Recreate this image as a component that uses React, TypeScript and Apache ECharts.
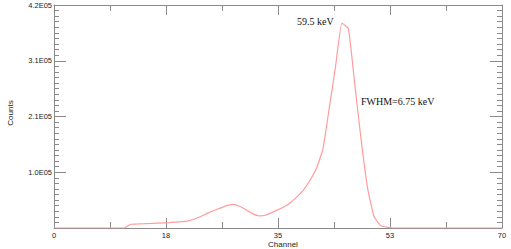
import React, { useEffect, useRef } from "react";
import * as echarts from "echarts";

const channels: number[] = [
  0, 1, 2, 3, 4, 5, 6, 7, 8, 9, 10, 11, 12, 13, 14, 15, 16, 17, 18, 19, 20,
  21, 22, 23, 24, 25, 26, 27, 28, 29, 30, 31, 32, 33, 34, 35, 36, 37, 38, 39, 40,
  41, 42, 43, 44, 45, 46, 47, 48, 49, 50, 51, 52, 53, 54, 55, 56, 57, 58, 59, 60,
  61, 62, 63, 64, 65, 66, 67, 68, 69, 70,
];
const counts: number[] = [
  0, 0, 0, 0, 0, 0, 0, 0, 0, 0, 0, 0, 7000, 7500, 8000, 8500, 9000, 9500, 10000, 11000, 12000,
  13500, 17000, 22000, 28000, 33000, 37500, 42000, 44500, 41000, 34500, 27000, 23000, 24000, 29000, 34500, 40000, 48000, 59000, 72000, 90000,
  112000, 148000, 225000, 305000, 386000, 375000, 270000, 165000, 75000, 22000, 5000, 1500, 0, 0, 0, 0, 0, 0, 0, 0,
  0, 0, 0, 0, 0, 0, 0, 0, 0, 0,
];
const xTickLabels: string[] = ["0", "18", "35", "53", "70"];
const yTickLabels: string[] = ["", "1.0E05", "2.1E05", "3.1E05", "4.2E05"];
const peakLabel = "59.5 keV";
const fwhmLabel = "FWHM=6.75 keV";

const AXIS = "#8a8a8a";
const LINE = "#ff9c9c";

export default function App() {
  const ref = useRef<HTMLDivElement>(null);
  useEffect(() => {
    if (!ref.current) return;
    const chart = echarts.init(ref.current, undefined, { renderer: "svg" });
    const xAx = (position: "top" | "bottom", interval: number, len: number, labels: boolean, line: boolean) => ({
      type: "value" as const,
      position,
      min: 0,
      max: 70,
      interval,
      splitLine: { show: false },
      axisLine: { show: line, onZero: false, lineStyle: { color: AXIS, width: 1 } },
      axisTick: { show: true, inside: true, length: len, lineStyle: { color: AXIS } },
      axisLabel: labels
        ? {
            margin: 3,
            fontSize: 7.5,
            color: "#222",
            fontFamily: "Liberation Sans",
            formatter: (v: number) => xTickLabels[Math.round(v / 17.5)] ?? "",
          }
        : { show: false },
    });
    const yAx = (position: "left" | "right", interval: number, len: number, labels: boolean, line: boolean) => ({
      type: "value" as const,
      position,
      min: 0,
      max: 420000,
      interval,
      splitLine: { show: false },
      axisLine: { show: line, onZero: false, lineStyle: { color: AXIS, width: 1 } },
      axisTick: { show: true, inside: true, length: len, lineStyle: { color: AXIS } },
      axisLabel: labels
        ? {
            margin: 2,
            fontSize: 7.5,
            color: "#222",
            fontFamily: "Liberation Sans",
            formatter: (v: number) => yTickLabels[Math.round(v / 105000)] ?? "",
          }
        : { show: false },
    });
    chart.setOption({
      animation: false,
      backgroundColor: "#ffffff",
      grid: { left: 54, right: 9, top: 5, bottom: 21, containLabel: false },
      xAxis: [
        xAx("bottom", 17.5, 10, true, true),
        xAx("top", 17.5, 10, false, true),
        xAx("bottom", 8.75, 6, false, false),
        xAx("top", 8.75, 6, false, false),
      ],
      yAxis: [
        yAx("left", 105000, 12, true, true),
        yAx("right", 105000, 12, false, true),
        yAx("left", 10500, 5, false, false),
        yAx("right", 10500, 5, false, false),
      ],
      graphic: [
        {
          type: "text",
          x: 283,
          y: 244,
          style: {
            text: "Channel",
            fontSize: 8,
            fontFamily: "Liberation Sans",
            fill: "#222",
            textAlign: "center",
            textVerticalAlign: "middle",
          },
        },
        {
          type: "text",
          x: 10.5,
          y: 113,
          rotation: Math.PI / 2,
          style: {
            text: "Counts",
            fontSize: 8,
            fontFamily: "Liberation Sans",
            fill: "#222",
            textAlign: "center",
            textVerticalAlign: "middle",
          },
        },
        {
          type: "text",
          x: 297,
          y: 21.5,
          style: {
            text: peakLabel,
            fontSize: 10,
            fontFamily: "Liberation Serif",
            fill: "#111",
            textAlign: "left",
            textVerticalAlign: "middle",
          },
        },
        {
          type: "text",
          x: 361,
          y: 101.5,
          style: {
            text: fwhmLabel,
            fontSize: 10,
            fontFamily: "Liberation Serif",
            fill: "#111",
            textAlign: "left",
            textVerticalAlign: "middle",
          },
        },
      ],
      series: [
        {
          type: "line",
          xAxisIndex: 0,
          yAxisIndex: 0,
          data: channels.map((c, i) => [c, counts[i]]),
          showSymbol: false,
          symbol: "none",
          smooth: 0.15,
          lineStyle: { color: LINE, width: 1.2 },
          z: 1,
        },
      ],
    });
    return () => chart.dispose();
  }, []);
  return <div ref={ref} style={{ width: 511, height: 249, position: "absolute", left: 0, top: 0 }} />;
}
